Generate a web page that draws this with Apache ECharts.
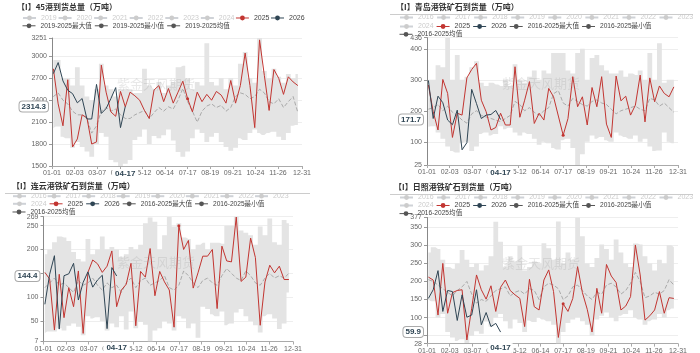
<!DOCTYPE html>
<html><head><meta charset="utf-8">
<script src="https://cdn.jsdelivr.net/npm/echarts@6/dist/echarts.min.js"></script>
<style>html,body{margin:0;padding:0;background:#fff}#c{width:700px;height:353px}</style>
</head><body><div id="c"></div>
<script>
// ---------- data ----------
const weekDates = ['01-03','01-10','01-17','01-24','01-31','02-07','02-14','02-21','02-28','03-06','03-13','03-20','03-27','04-03','04-10','04-17','04-24','05-01','05-08','05-15','05-22','05-29','06-05','06-12','06-19','06-26','07-03','07-10','07-17','07-24','07-31','08-07','08-14','08-21','08-28','09-04','09-11','09-18','09-25','10-02','10-09','10-16','10-23','10-30','11-06','11-13','11-20','11-27','12-04','12-11','12-18','12-25'];
const xTickLabels = ['01-01','02-03','03-07','04-09','05-12','06-14','07-17','08-19','09-21','10-24','11-26','12-31'];

const p1Title = '【I】45港到货总量（万吨）';
const p1Years = ['2019','2020','2021','2022','2023','2024'];
const p1Stat = ['2019-2025最大值','2019-2025最小值','2019-2025均值'];
const p1Max = [2950,2950,2700,2700,2600,2850,2600,2450,2400,2550,2900,2600,2550,2450,2550,2550,2550,2500,2500,2830,2600,2550,2650,2500,2600,2650,2850,2870,2700,2550,2650,2600,3180,2650,2600,2700,2550,2700,2600,2900,3060,2700,2640,3251,2800,2700,2830,2720,2640,2760,2700,2760];
const p1Min = [2020,2040,1900,1880,1750,1830,1760,1700,1627,1800,1950,1900,1582,1550,1500,1530,1582,1855,1900,2000,1800,1910,1880,1920,2000,1850,1690,1627,1700,1880,2000,1950,1830,1900,1950,1830,1760,1710,1750,1880,1855,1950,2000,1950,1925,1950,1970,1900,1855,1950,2050,2060];
const p1Mean = [2450,2500,2400,2350,2250,2200,2200,2150,1950,2050,2250,2300,2250,2280,2200,2150,2150,2200,2230,2260,2150,2230,2300,2250,2310,2280,2400,2560,2380,2250,2100,2250,2320,2350,2300,2330,2250,2300,2450,2500,2480,2420,2450,2550,2500,2380,2350,2420,2300,2380,2450,2230];
const p1Y2025 = [2830,2350,2050,2680,1760,1870,2200,2160,1800,1830,2880,2510,2240,2180,2520,2310,2510,2460,2400,2260,2150,2540,2600,2380,2560,2360,2510,2660,2420,2240,2510,2380,2480,2400,2520,2470,2360,2670,2360,2600,3045,2600,2025,3225,2740,2260,2820,2700,2480,2720,2650,2600];
const p1Y2026 = [2764,2915,2664,2536,2490,2364,2423,2143,2143,2616,2219,2286,2423,2573,2025,2314.3];

const yearsB = ['2016','2017','2018','2019','2020','2021','2022','2023','2024'];
const statB = ['2016-2025最大值','2016-2025最小值','2016-2025均值'];

const p2Title = '【I】青岛港铁矿石到货量（万吨）';
const p2Max = [300,300,347,340,436,300,380,300,310,340,360,290,280,290,285,280,300,280,350,300,290,310,330,300,330,320,386,386,386,330,320,386,400,300,370,380,347,330,320,320,330,310,320,315,330,300,386,300,418,290,300,300];
const p2Min = [148,150,130,110,85,70,65,95,100,70,85,125,130,120,125,150,140,145,130,120,130,125,110,90,100,95,80,75,105,110,80,25,60,100,120,110,115,105,100,130,120,115,110,120,100,110,85,70,72,130,100,95];
const p2Mean = [205,210,220,200,215,195,185,170,160,190,200,185,180,175,170,165,175,185,230,220,200,210,195,185,200,210,255,265,225,215,240,230,220,215,230,235,225,220,205,190,200,205,210,215,205,200,240,235,215,225,210,195];
const p2Y2025 = [283,197,138,301,256,114,192,186,306,333,353,234,197,138,146,192,154,154,342,179,234,294,159,192,170,272,245,183,121,175,310,213,245,154,275,213,310,157,114,312,232,247,186,218,315,164,306,229,280,256,245,277];
const p2Y2026 = [298,175,247,226,170,155,202,74,97,269,223,175,186,188,201,171.7];

const p3Title = '【I】连云港铁矿石到货量（万吨）';
const p3Max = [190,200,215,227,225,218,195,180,175,222,190,200,227,200,205,200,185,190,205,200,210,255,267,258,200,230,268,248,255,225,222,200,210,214,200,214,214,212,250,250,269,240,235,230,210,248,230,265,215,210,262,255];
const p3Min = [25,28,28,35,30,40,45,38,20,60,55,58,50,30,45,37,60,32,70,35,48,42,7,30,35,50,45,30,60,55,35,45,15,80,75,64,60,70,41,45,68,75,60,50,41,26,60,64,55,33,45,110];
const p3Mean = [120,130,140,125,130,120,110,135,125,130,140,125,115,130,120,125,110,130,140,120,135,140,125,130,135,145,120,115,125,155,145,130,120,135,140,130,125,145,160,150,140,135,155,145,130,125,140,150,140,145,140,150];
const p3Y2025 = [152,138,31,148,57,120,80,155,24,152,178,170,152,165,197,80,115,127,171,40,154,142,202,103,154,132,115,37,250,200,219,119,151,186,186,200,76,207,176,174,268,133,142,224,183,41,132,167,151,165,137,137];
const p3Y2026 = [85,148,187,33,145,149,171,94,131,153,121,136,146,34,162,144.4];

const p4Title = '【I】日照港铁矿石到货量（万吨）';
const p4Max = [280,295,290,260,240,235,250,287,260,240,250,230,245,270,365,310,240,270,255,298,230,240,255,250,306,292,260,366,250,280,260,377,325,250,240,265,302,290,260,316,280,250,240,305,302,270,250,230,260,250,300,295];
const p4Min = [150,145,100,110,60,45,35,40,30,50,62,55,89,75,100,110,90,70,95,85,60,92,88,100,95,90,80,28,60,85,95,101,90,80,50,95,105,114,100,90,105,110,120,100,95,80,90,95,110,100,120,125];
const p4Mean = [205,200,190,180,170,160,175,185,200,165,140,150,145,160,175,180,185,160,170,175,165,180,175,150,185,195,190,180,150,160,185,190,175,160,150,170,165,190,195,185,165,175,195,225,200,155,160,170,165,175,205,190];
const p4Y2025 = [212,204,107,250,112,169,175,177,38,126,218,177,151,188,117,184,204,175,163,153,75,206,130,121,204,232,172,45,138,117,153,241,169,123,60,181,112,247,215,197,121,132,158,301,218,93,105,121,172,112,155,153];
const p4Y2026 = [153,177,230,117,175,172,92,163,101,107,177,80,114,75,84,59.9];

// ---------- helpers ----------
const monthLen = [31,29,31,30,31,30,31,31,30,31,30,31];
const days = [];
monthLen.forEach((n,m)=>{for(let d=1;d<=n;d++)days.push(String(m+1).padStart(2,'0')+'-'+String(d).padStart(2,'0'));});
const xs = weekDates.map(s=>days.indexOf(s));
const FF = "'Liberation Sans','Noto Sans CJK SC',sans-serif";
const RED = '#c23531', NAVY = '#2f4554';
const showLabel = idx => xTickLabels.includes(days[idx]);

const panels = [
  {title:p1Title, years:p1Years, stat:p1Stat, max:p1Max, min:p1Min, mean:p1Mean, y25:p1Y2025, y26:p1Y2026},
  {title:p2Title, years:yearsB, stat:statB, max:p2Max, min:p2Min, mean:p2Mean, y25:p2Y2025, y26:p2Y2026},
  {title:p3Title, years:yearsB, stat:statB, max:p3Max, min:p3Min, mean:p3Mean, y25:p3Y2025, y26:p3Y2026},
  {title:p4Title, years:yearsB, stat:statB, max:p4Max, min:p4Min, mean:p4Mean, y25:p4Y2025, y26:p4Y2026}
];
const grids = [
  {left:52,right:398,top:38,bottom:187},
  {left:427,right:22,top:37.6,bottom:188},
  {left:43.5,right:407,top:216.6,bottom:11.5},
  {left:427,right:22,top:217.5,bottom:9.4}
];
const titlePos = [[17,3],[396,3],[12,181.5],[394,182.8]];
const watermarks = [[156,84],[541,83],[156,262],[541,263]];

const allStat = p1Stat.concat(statB);
const allYears = ['2016','2017','2018','2019','2020','2021','2022','2023','2024'];
function mkLegend(names,left,top,gap){
  const sel={}; names.forEach(n=>{ if(allYears.includes(n)) sel[n]=false; });
  return {left,top,itemGap:gap,itemWidth:13,itemHeight:6,padding:0,
    textStyle:{fontSize:7,color:'#444',fontFamily:FF},
    inactiveColor:'#ccc',inactiveBorderColor:'#ccc',
    lineStyle:{width:1,type:'solid',opacity:1},
    selected:sel,
    data:names.map(n=>allStat.includes(n)?{name:n,itemStyle:{color:'#555'},lineStyle:{color:'#555',type:'solid',width:1},textStyle:{fontSize:6.6}}:n)};
}
const legends = [
  mkLegend(p1Years.concat(['2025','2026']),22,14.5,1),
  mkLegend(p1Stat,22,22.5,2.5),
  mkLegend(yearsB.slice(0,8),399,14,2.5),
  mkLegend(['2024','2025','2026',statB[0],statB[1]],399,23,2.5),
  mkLegend([statB[2]],399,31,3),
  mkLegend(yearsB.slice(0,8),12,192.7,0),
  mkLegend(['2024','2025','2026',statB[0],statB[1]],12,200.3,2.5),
  mkLegend([statB[2]],12,208.7,3),
  mkLegend(yearsB.slice(0,8),399,194,2.5),
  mkLegend(['2024','2025','2026',statB[0],statB[1]],399,202,2.5),
  mkLegend([statB[2]],399,210.3,3)
];

const series=[], xAxis=[], yAxis=[], titles=[], graphics=[];
panels.forEach((P,i)=>{
  const pairs = arr => arr.map((v,k)=>[xs[k],v]);
  P.years.forEach(y=>series.push({name:y,type:'line',xAxisIndex:i,yAxisIndex:i,data:[],symbol:'circle',color:'#ccc'}));
  series.push({name:P.stat[1],type:'line',xAxisIndex:i,yAxisIndex:i,stack:'band'+i,step:'middle',
    data:pairs(P.min),symbol:'circle',showSymbol:false,color:'#555',lineStyle:{width:0},silent:true,z:1});
  series.push({name:P.stat[0],type:'line',xAxisIndex:i,yAxisIndex:i,stack:'band'+i,step:'middle',
    data:P.max.map((v,k)=>[xs[k],v-P.min[k]]),symbol:'circle',showSymbol:false,color:'#555',
    lineStyle:{width:0},areaStyle:{color:'#e4e4e4',opacity:1},silent:true,z:1});
  series.push({name:P.stat[2],type:'line',xAxisIndex:i,yAxisIndex:i,data:pairs(P.mean),symbol:'circle',
    showSymbol:false,color:'#555',lineStyle:{color:'#aaa',type:'dashed',width:1},silent:true,z:2});
  series.push({name:'2025',type:'line',xAxisIndex:i,yAxisIndex:i,data:pairs(P.y25),symbol:'circle',symbolSize:3,
    color:RED,lineStyle:{width:1,color:RED},itemStyle:{color:RED},z:3});
  series.push({name:'2026',type:'line',xAxisIndex:i,yAxisIndex:i,data:pairs(P.y26),symbol:'circle',symbolSize:3,
    color:NAVY,lineStyle:{width:1,color:NAVY},itemStyle:{color:NAVY},z:4});
  const lastIdx = P.y26.length-1;
  xAxis.push({gridIndex:i,type:'category',data:days,boundaryGap:false,
    axisLine:{show:true,lineStyle:{color:'#aaa'}},
    axisTick:{show:true,length:3,interval:showLabel,lineStyle:{color:'#aaa'}},
    splitLine:{show:false},
    axisLabel:{fontSize:7,color:'#666',margin:4,fontFamily:FF,interval:showLabel},
    axisPointer:{show:true,status:'show',value:xs[lastIdx],type:'line',lineStyle:{opacity:0},triggerTooltip:false,
      label:{show:true,formatter:p=>(typeof p.value==='number'?days[p.value]:p.value),fontSize:8,fontWeight:'bold',color:NAVY,fontFamily:FF,
        backgroundColor:'#fff',padding:[1,3],margin:3,shadowBlur:0,borderWidth:0}}
  });
  yAxis.push({gridIndex:i,type:'value',min:'dataMin',max:'dataMax',
    axisLine:{show:true,lineStyle:{color:'#888'}},
    axisTick:{show:true,length:3,lineStyle:{color:'#999'}},
    splitLine:{show:true,lineStyle:{color:'#eee'}},
    axisLabel:{fontSize:7,color:'#666',margin:5,fontFamily:FF,showMinLabel:true,showMaxLabel:true,formatter:v=>String(v)},
    axisPointer:{show:true,status:'show',value:P.y26[lastIdx],type:'line',lineStyle:{opacity:0},triggerTooltip:false,
      label:{show:true,formatter:p=>Number(p.value).toFixed(1),fontSize:8,fontWeight:'bold',color:NAVY,fontFamily:FF,
        backgroundColor:'#fff',borderColor:'#aaa',borderWidth:1,padding:[1,2],margin:4,shadowBlur:0}}
  });
  titles.push({text:P.title,left:titlePos[i][0],top:titlePos[i][1],padding:0,
    textStyle:{fontSize:8,fontWeight:'bold',color:'#333',fontFamily:"'Noto Sans CJK SC',sans-serif"}});
  graphics.push({type:'text',x:watermarks[i][0],y:watermarks[i][1],z:100,silent:true,
    style:{text:'紫金天风期货',fontSize:13,fontFamily:"'Noto Sans CJK SC',sans-serif",fill:'rgba(150,150,150,0.22)',align:'center',verticalAlign:'middle'}});
});
graphics.push({type:'line',shape:{x1:390,y1:14.5,x2:693,y2:14.5},style:{stroke:'#ccc',lineWidth:1},silent:true});
graphics.push({type:'line',shape:{x1:5,y1:193.5,x2:310,y2:193.5},style:{stroke:'#ccc',lineWidth:1},silent:true});
graphics.push({type:'line',shape:{x1:390,y1:194.5,x2:693,y2:194.5},style:{stroke:'#ccc',lineWidth:1},silent:true});

const chart = echarts.init(document.getElementById('c'),null,{renderer:'canvas'});
chart.setOption({
  animation:false,
  backgroundColor:'#fff',
  title:titles,
  legend:legends,
  grid:grids.map(g=>Object.assign({containLabel:false,outerBoundsMode:'none'},g)),
  xAxis, yAxis, series,
  graphic:graphics
});
</script></body></html>
